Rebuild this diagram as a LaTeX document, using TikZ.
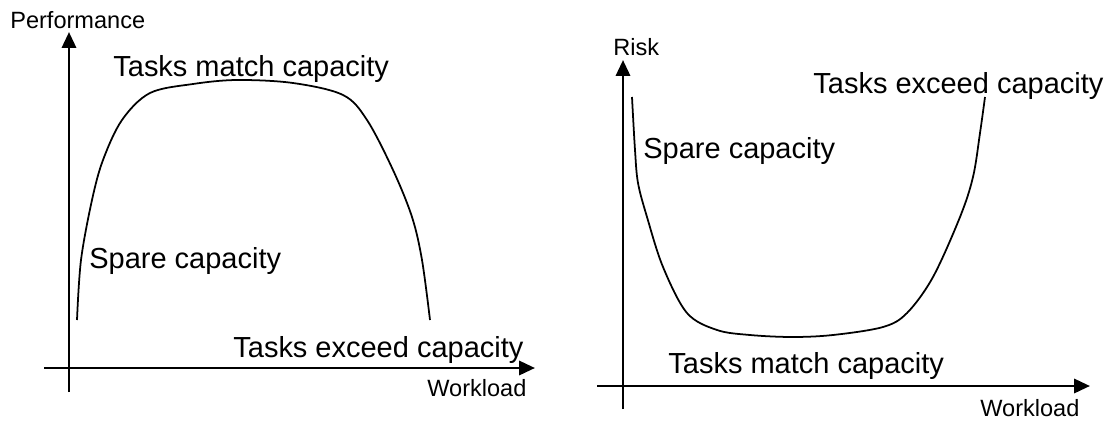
\documentclass[tikz,border=0pt]{standalone}
\usepackage{fontspec}
\setmainfont{Liberation Sans}
\usetikzlibrary{arrows.meta}

\begin{document}
\begin{tikzpicture}[
    axis/.style={line width=1.6pt,-{Triangle[length=9pt,width=8pt]}},
    curve/.style={line width=1pt},
    big/.style={font=\fontsize{16.5}{18}\selectfont,inner sep=0pt,anchor=base west},
    small/.style={font=\fontsize{13.4}{15}\selectfont,inner sep=0pt,anchor=base west}]
    \useasboundingbox (0,0) rectangle (22.2,8.42);
    % performance against workload
    \begin{scope}[shift={(1.38,1.06)}]
      \draw[axis](-0.5,0)--(9.32,0);
      \draw[axis](0,-0.48)--(0,6.72);
      \node[small] (perfw) at (7.16,-0.56){Workload};
      \node[small] (perfy) at (-1.18,6.80){Performance};
      \draw[curve] plot[smooth,tension=0.55] coordinates {(0.16,0.96) (0.24,2.16) (0.46,3.36) (0.68,4.16) (1.06,4.96) (1.62,5.50) (2.48,5.68) (3.36,5.76) (4.48,5.70) (5.48,5.46) (5.96,4.96) (6.48,3.96) (6.86,3.02) (7.06,2.16) (7.22,0.96)};
      \node[big] (perfmatch) at (0.88,5.84){Tasks match capacity};
      \node[big] (perfspare) at (0.40,2.00){Spare capacity};
      \node[big] (perfexceed) at (3.28,0.22){Tasks exceed capacity};
    \end{scope}
    % risk against workload
    \begin{scope}[shift={(12.46,0.70)}]
      \draw[axis](-0.52,0)--(9.34,0);
      \draw[axis](0,-0.46)--(0,6.52);
      \node[small] (riskw) at (7.14,-0.60){Workload};
      \node[small] (risky) at (-0.20,6.62){Risk};
      \draw[curve] plot[smooth,tension=0.55] coordinates {(0.18,5.78) (0.24,4.72) (0.30,4.06) (0.48,3.38) (0.80,2.38) (1.28,1.46) (1.88,1.12) (2.54,1.02) (3.38,0.98) (4.20,1.02) (5.20,1.18) (5.68,1.46) (6.20,2.18) (6.74,3.38) (7.00,4.18) (7.14,5.06) (7.24,5.78)};
      \node[big] (riskexceed) at (3.80,5.86){Tasks exceed capacity};
      \node[big] (riskspare) at (0.40,4.56){Spare capacity};
      \node[big] (riskmatch) at (0.90,0.26){Tasks match capacity};
    \end{scope}
\end{tikzpicture}
\end{document}
